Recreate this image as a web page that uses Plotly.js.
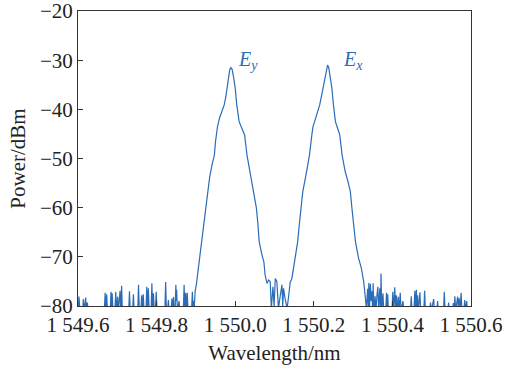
<!DOCTYPE html>
<html>
<head>
<meta charset="utf-8">
<script src="https://cdn.plot.ly/plotly-3.0.1.min.js"></script>
<style>html,body{margin:0;padding:0;background:#fff;}#chart{width:505px;height:370px;}</style>
</head>
<body>
<div id="chart"></div>
<script>
// Spectrum (values below -80 dBm are the clipped noise floor)
var wavelength = [
  // left noise floor
  1549.600,1549.6025,1549.605,1549.612,1549.6136,1549.616,1549.6195,1549.6215,1549.6238,1549.626,
  1549.667,1549.669,1549.671,1549.673,1549.675,1549.682,1549.684,1549.6855,1549.687,1549.689,
  1549.694,1549.696,1549.698,1549.701,1549.703,1549.707,1549.709,1549.711,1549.713,1549.729,
  1549.731,1549.733,1549.739,1549.741,1549.743,1549.752,1549.754,1549.756,1549.760,1549.762,
  1549.764,1549.766,1549.768,1549.773,1549.775,1549.777,1549.779,1549.781,1549.786,1549.788,
  1549.790,1549.792,1549.794,1549.797,1549.799,1549.801,1549.821,1549.823,1549.825,1549.828,
  1549.830,1549.832,1549.837,1549.839,1549.841,1549.843,1549.845,1549.847,1549.849,1549.850,
  1549.851,1549.853,1549.857,1549.859,1549.868,1549.870,1549.872,1549.874,1549.876,1549.878,
  1549.880,1549.889,1549.891,1549.893,1549.895,
  // Ey peak
  1549.896,1549.898,1549.901,1549.904,1549.909,1549.915,1549.919,1549.924,1549.929,1549.935,
  1549.941,1549.947,1549.950,1549.953,1549.955,1549.960,1549.966,1549.972,1549.976,1549.979,
  1549.983,1549.986,1549.989,1549.992,1549.996,1550.000,1550.004,1550.010,1550.015,1550.024,
  1550.030,1550.036,1550.042,1550.047,1550.054,1550.058,1550.061,1550.068,1550.073,1550.076,
  // valley
  1550.078,1550.081,1550.085,1550.089,1550.092,1550.096,1550.099,1550.102,1550.106,1550.110,
  1550.115,1550.119,1550.121,1550.123,1550.127,1550.132,1550.136,1550.138,1550.140,
  // Ex peak
  1550.144,1550.147,1550.151,1550.159,1550.163,1550.167,1550.172,1550.180,1550.183,1550.189,
  1550.195,1550.198,1550.202,1550.215,1550.219,1550.223,1550.228,1550.232,1550.235,1550.238,
  1550.242,1550.246,1550.250,1550.255,1550.259,1550.266,1550.272,1550.280,1550.287,1550.293,
  1550.297,1550.301,1550.306,1550.314,1550.321,1550.327,1550.331,
  // right noise floor
  1550.334,1550.337,1550.339,1550.340,1550.342,1550.344,1550.346,1550.348,1550.350,1550.351,
  1550.353,1550.356,1550.358,1550.361,1550.363,1550.365,1550.368,1550.370,1550.371,1550.373,
  1550.376,1550.378,1550.383,1550.385,1550.3865,1550.388,1550.390,1550.399,1550.401,1550.403,
  1550.406,1550.408,1550.410,1550.412,1550.415,1550.417,1550.420,1550.422,1550.427,1550.429,
  1550.446,1550.448,1550.450,1550.455,1550.457,1550.459,1550.461,1550.4625,1550.464,1550.466,
  1550.470,1550.472,1550.480,1550.482,1550.484,1550.495,1550.497,1550.499,1550.505,1550.507,
  1550.513,1550.515,1550.517,1550.530,1550.532,1550.534,1550.541,1550.543,1550.545,1550.553,
  1550.555,1550.557,1550.559,1550.561,1550.566,1550.568,1550.570,1550.572,1550.575,1550.577,
  1550.582,1550.584,1550.586,1550.589,1550.591,1550.600
];
var power = [
  -81,-78.1,-81,-81,-78.6,-81,-78.3,-81,-79.3,-81,
  -81,-77.3,-81,-77.6,-81,-81,-77.1,-81,-77.4,-81,
  -81,-77.1,-81,-78.1,-81,-76.9,-81,-75.9,-81,-81,
  -77.0,-81,-81,-77.6,-81,-81,-75.7,-81,-81,-77.8,
  -81,-77.6,-81,-81,-76.1,-81,-76.4,-81,-81,-75.4,
  -81,-77.4,-81,-81,-77.1,-81,-81,-75.1,-81,-81,
  -78.8,-81,-81,-78.5,-81,-78.1,-81,-81,-75.7,-79,
  -76.7,-81,-79.0,-81,-81,-75.7,-81,-77.3,-81,-77.3,
  -81,-81,-77.1,-81,-79,
  -80,-77.1,-75.7,-73.7,-70.3,-66.9,-63.5,-60.1,-56.75,-53.8,
  -51.3,-49.3,-46.5,-44.5,-43.5,-41.8,-40.2,-39.1,-37.5,-35.7,
  -33.5,-32.0,-31.5,-31.8,-33.5,-35.7,-39.1,-42.5,-43.5,-45.2,
  -49.3,-52.0,-54.0,-56.75,-60.1,-63.5,-66.9,-69.6,-71.0,-73.7,
  -74.7,-75.4,-74.7,-75.0,-80.5,-76.1,-80,-74.4,-75.0,-80.5,
  -77.7,-75.7,-80,-76.4,-78.5,-80.5,-78,-75.5,-75.1,
  -74.5,-73.0,-70.3,-66.9,-63.5,-60.1,-56.75,-53.4,-52.0,-49.3,
  -45.2,-43.5,-42.5,-39.1,-37.5,-35.7,-33.3,-31.6,-31.0,-31.5,
  -33.3,-35.7,-39.1,-42.5,-43.5,-45.2,-49.3,-52.7,-54.7,-56.75,
  -60.1,-63.5,-66.9,-70.3,-72.3,-75.1,-78.4,
  -80.5,-76.5,-81,-75.3,-80,-75.5,-79,-77,-81,-75.4,
  -81,-78,-81,-77.5,-76.1,-81,-76.4,-81,-73.4,-81,
  -77.4,-81,-81,-77.3,-81,-77.6,-81,-81,-77.1,-81,
  -76.2,-81,-77.8,-81,-78.1,-81,-77.3,-81,-79.0,-81,
  -81,-78.0,-81,-81,-76.9,-81,-76.7,-81,-77.8,-81,
  -77.2,-81,-81,-76.9,-81,-81,-79.3,-81,-78.6,-81,
  -81,-79.0,-81,-81,-77.1,-81,-81,-79.3,-81,-81,
  -79.4,-81,-78.0,-81,-78.1,-81,-78.4,-81,-77.3,-81,
  -81,-78.8,-81,-79.0,-81,-81
];
var xTickVals = [1549.6, 1549.8, 1550.0, 1550.2, 1550.4, 1550.6];
var xTickText = ['1 549.6', '1 549.8', '1 550.0', '1 550.2', '1 550.4', '1 550.6'];
var yTickVals = [-80, -70, -60, -50, -40, -30, -20];
var yTickText = ['\u221280', '\u221270', '\u221260', '\u221250', '\u221240', '\u221230', '\u221220'];
var peakLabels = ['<i>E</i><sub><i>y</i></sub>', '<i>E</i><sub><i>x</i></sub>'];
var peakLabelX = [1550.033, 1550.301];
var peakLabelY = [-30.0, -30.0];

var lineColor = '#2b6cb8';
var serif = '"Liberation Serif", "Times New Roman", Times, serif';

var trace = {
  x: wavelength, y: power, type: 'scatter', mode: 'lines',
  line: {color: lineColor, width: 1.2}, hoverinfo: 'skip', showlegend: false
};

var annotations = peakLabels.map(function (t, i) {
  return {x: peakLabelX[i], y: peakLabelY[i], xref: 'x', yref: 'y', text: t, showarrow: false,
          font: {family: serif, size: 20, color: lineColor}, xanchor: 'center', yanchor: 'middle'};
});

var layout = {
  width: 505, height: 370,
  margin: {l: 78, r: 34, t: 11, b: 64},
  paper_bgcolor: '#fff', plot_bgcolor: '#fff',
  font: {family: serif, size: 21, color: '#222'},
  showlegend: false,
  xaxis: {
    range: [1549.6, 1550.6], tickmode: 'array', tickvals: xTickVals, ticktext: xTickText,
    ticks: 'inside', ticklen: 5, tickwidth: 1, tickcolor: '#333',
    showline: true, linecolor: '#333', linewidth: 1, mirror: true,
    showgrid: false, zeroline: false, ticklabeloverflow: 'allow',
    tickfont: {family: serif, size: 21, color: '#222'},
    title: {text: 'Wavelength/nm', font: {family: serif, size: 21, color: '#222'}, standoff: 9}
  },
  yaxis: {
    range: [-80, -20], tickmode: 'array', tickvals: yTickVals, ticktext: yTickText,
    ticks: 'inside', ticklen: 5, tickwidth: 1, tickcolor: '#333',
    showline: true, linecolor: '#333', linewidth: 1, mirror: true,
    showgrid: false, zeroline: false, ticklabeloverflow: 'allow',
    tickfont: {family: serif, size: 21, color: '#222'},
    title: {text: 'Power/dBm', font: {family: serif, size: 21, color: '#222'}, standoff: 8}
  },
  annotations: annotations
};

Plotly.newPlot('chart', [trace], layout, {staticPlot: true, displayModeBar: false});
</script>
</body>
</html>
